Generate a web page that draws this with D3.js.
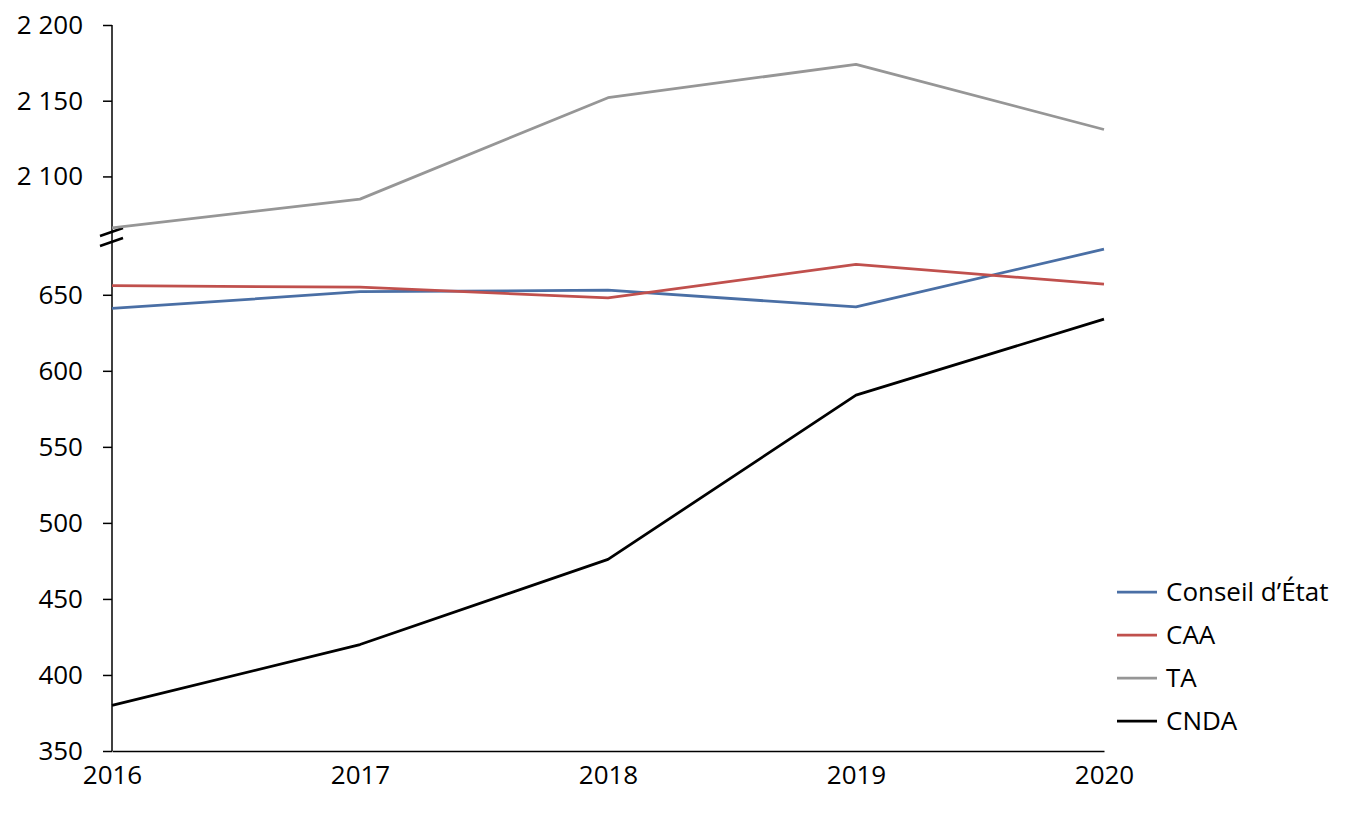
<!DOCTYPE html>
<html><head><meta charset="utf-8">
<script src="https://cdn.jsdelivr.net/npm/d3@7"></script>
<style>body{margin:0;background:#fff}svg{display:block}text{font-family:"Open Sans",sans-serif}</style>
</head><body><svg id="c" width="1346" height="813"></svg>
<script>
const years = [2016, 2017, 2018, 2019, 2020];
const conseilEtat = [641, 652, 653, 642, 680];
const caa = [656, 655, 648, 670, 657];
const ta = [2066, 2085, 2152, 2174, 2131];
const cnda = [380, 420, 476, 584, 634];
const lowTicks = [350, 400, 450, 500, 550, 600, 650];
const highTicks = [2100, 2150, 2200];
const seriesNames = ["Conseil d\u2019\u00c9tat", "CAA", "TA", "CNDA"];
const colors = ["#4a6fa5", "#c0504d", "#969696", "#000000"];

const FONT = "'Open Sans',sans-serif";
const FS = 26;
const svg = d3.select("#c");
const x = d3.scaleLinear().domain([2016, 2020]).range([112, 1104]);
const yLow = d3.scaleLinear().domain([350, 688]).range([751, 237]);
const yHigh = d3.scaleLinear().domain([2060, 2200]).range([237, 25]);

const series = [
  {name: seriesNames[0], values: conseilEtat, y: yLow, color: colors[0]},
  {name: seriesNames[1], values: caa, y: yLow, color: colors[1]},
  {name: seriesNames[2], values: ta, y: yHigh, color: colors[2]},
  {name: seriesNames[3], values: cnda, y: yLow, color: colors[3]}
];

// axes
const fmt = v => d3.format(",")(v).replace(/,/g, " ");
const axL = svg.append("g").attr("transform", "translate(112,0)")
  .call(d3.axisLeft(yLow).tickValues(lowTicks).tickSize(9).tickPadding(20).tickFormat(fmt));
const axH = svg.append("g").attr("transform", "translate(112,0)")
  .call(d3.axisLeft(yHigh).tickValues(highTicks).tickSize(9).tickPadding(20).tickFormat(fmt));
[axL, axH].forEach(a => {
  a.attr("font-family", FONT).attr("font-size", FS);
  a.select(".domain").remove();
  a.selectAll("line").attr("stroke", "#000").attr("stroke-width", 1.5);
  a.selectAll("text").attr("fill", "#000");
});
svg.append("line").attr("x1", 112).attr("x2", 112).attr("y1", yHigh(2200)).attr("y2", yLow(350))
  .attr("stroke", "#000").attr("stroke-width", 1.5);

const axX = svg.append("g").attr("transform", "translate(0,751)")
  .call(d3.axisBottom(x).tickValues(years).tickSize(0).tickPadding(15).tickFormat(d3.format("d")));
axX.attr("font-family", FONT).attr("font-size", FS);
axX.select(".domain").attr("stroke", "#000").attr("stroke-width", 1.5);
axX.selectAll("text").attr("fill", "#000");

// break marks
[232, 242].forEach(yy => {
  svg.append("line").attr("x1", 100).attr("x2", 123).attr("y1", yy + 4).attr("y2", yy - 4)
    .attr("stroke", "#000").attr("stroke-width", 2.5);
});

// lines
series.forEach(s => {
  const line = d3.line().x((d, i) => x(years[i])).y(d => s.y(d));
  svg.append("path").datum(s.values).attr("d", line).attr("fill", "none")
    .attr("stroke", s.color).attr("stroke-width", 2.75).attr("stroke-linejoin", "round");
});

// legend
const lg = svg.append("g").attr("font-family", FONT).attr("font-size", FS);
series.forEach((s, i) => {
  const yy = 592 + i * 43;
  lg.append("line").attr("x1", 1117).attr("x2", 1157).attr("y1", yy).attr("y2", yy)
    .attr("stroke", s.color).attr("stroke-width", 2.75);
  lg.append("text").attr("x", 1166).attr("y", yy).attr("dy", "0.35em")
    .attr("fill", "#000").text(s.name);
});
</script></body></html>
